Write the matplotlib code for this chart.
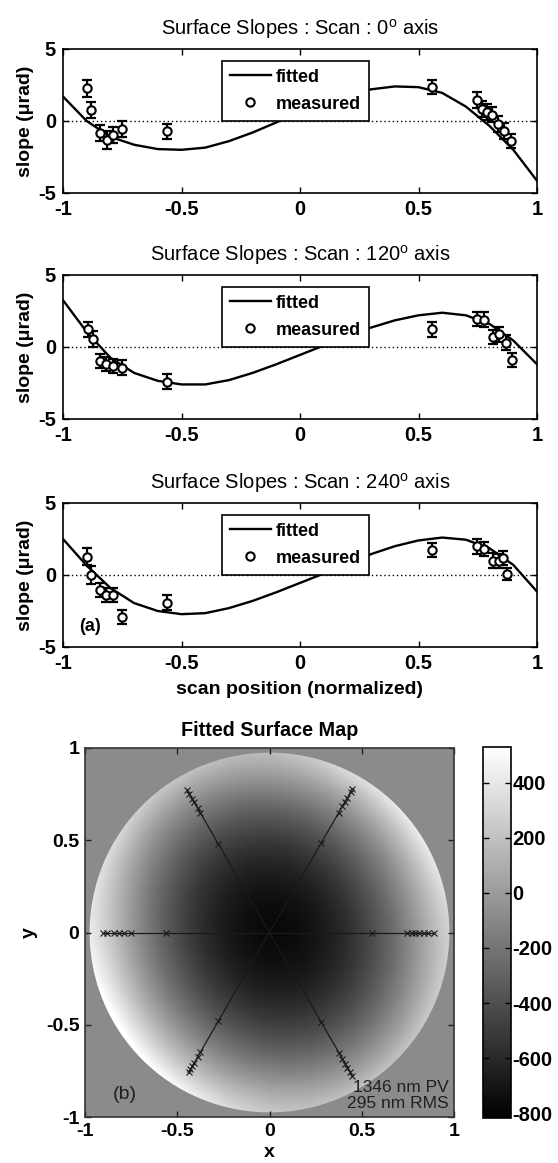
import numpy as np
import matplotlib.pyplot as plt
from matplotlib.patches import Circle

plt.rcParams['font.family'] = ['Liberation Sans', 'DejaVu Sans']
plt.rcParams['mathtext.fontset'] = 'custom'
plt.rcParams['mathtext.rm'] = 'Liberation Sans'
plt.rcParams['xtick.direction'] = 'in'
plt.rcParams['ytick.direction'] = 'in'
plt.rcParams['xtick.top'] = True
plt.rcParams['ytick.right'] = True

# fitted slope curves
fit_x = [-1.0, -0.9, -0.8, -0.7, -0.6, -0.5, -0.4, -0.3, -0.2, -0.1, 0.0,
         0.1, 0.2, 0.3, 0.4, 0.5, 0.6, 0.7, 0.8, 0.9, 1.0]
fit_0 = [1.7, 0.0, -1.1, -1.65, -1.95, -2.0, -1.85, -1.4, -0.8, -0.1, 0.6,
         1.3, 1.85, 2.2, 2.4, 2.35, 1.95, 1.0, -0.35, -2.0, -4.15]
fit_120 = [3.25, 1.05, -0.75, -1.8, -2.35, -2.6, -2.6, -2.3, -1.8, -1.2, -0.55,
           0.1, 0.75, 1.35, 1.85, 2.2, 2.38, 2.2, 1.6, 0.45, -1.2]
fit_240 = [2.5, 0.65, -0.9, -1.95, -2.5, -2.72, -2.65, -2.3, -1.8, -1.2, -0.55,
           0.1, 0.8, 1.45, 2.0, 2.4, 2.6, 2.45, 1.85, 0.7, -1.15]

# measured slopes
pos_0 = [-0.90, -0.88, -0.845, -0.815, -0.787, -0.75, -0.56,
         0.556, 0.745, 0.77, 0.79, 0.81, 0.835, 0.86, 0.89]
meas_0 = [2.27, 0.76, -0.85, -1.32, -1.0, -0.55, -0.72,
          2.35, 1.45, 0.85, 0.6, 0.45, -0.2, -0.7, -1.4]
err_0 = [0.58, 0.55, 0.55, 0.62, 0.55, 0.55, 0.5,
         0.5, 0.55, 0.55, 0.55, 0.55, 0.55, 0.55, 0.5]

pos_120 = [-0.895, -0.875, -0.845, -0.82, -0.79, -0.752, -0.56,
           0.557, 0.748, 0.778, 0.816, 0.838, 0.868, 0.893]
meas_120 = [1.22, 0.53, -0.97, -1.2, -1.31, -1.43, -2.4,
            1.22, 1.95, 1.9, 0.71, 0.87, 0.3, -0.9]
err_120 = [0.55, 0.55, 0.5, 0.5, 0.5, 0.5, 0.5,
           0.5, 0.5, 0.5, 0.5, 0.5, 0.5, 0.5]

pos_240 = [-0.898, -0.88, -0.842, -0.817, -0.79, -0.75, -0.56,
           0.557, 0.748, 0.778, 0.816, 0.838, 0.857, 0.875]
meas_240 = [1.28, 0.0, -1.06, -1.4, -1.4, -2.9, -1.91,
            1.73, 1.98, 1.82, 1.0, 0.97, 1.2, 0.07]
err_240 = [0.6, 0.6, 0.5, 0.5, 0.5, 0.5, 0.55,
           0.5, 0.5, 0.5, 0.5, 0.5, 0.5, 0.45]

scan_angles = [0, 120, 240]
xy_ticks = [-1, -0.5, 0, 0.5, 1]
xy_ticklabels = ['-1', '-0.5', '0', '0.5', '1']

# fitted surface map (nm) on a coarse grid, rows bottom (y=-1) to top (y=1)
grid_xy = [-1.0, -0.75, -0.5, -0.25, 0.0, 0.25, 0.5, 0.75, 1.0]
surface_nm = [
    [1925, 1286, 805, 483, 320, 316, 470, 783, 1255],
    [1370, 747, 283, -23, -170, -158, 13, 342, 830],
    [953, 346, -103, -392, -523, -494, -308, 38, 543],
    [673, 82, -350, -623, -738, -693, -490, -128, 393],
    [530, -44, -460, -717, -815, -754, -535, -157, 380],
    [525, -33, -433, -673, -755, -678, -443, -48, 505],
    [658, 116, -268, -492, -558, -464, -213, 198, 768],
    [928, 402, 35, -173, -223, -113, 155, 582, 1168],
    [1335, 826, 475, 283, 250, 376, 660, 1103, 1705],
]
clim = (-817, 529)
cbar_ticks = [-800, -600, -400, -200, 0, 200, 400]

W, H = 558, 1163
fig = plt.figure(figsize=(W / 100, H / 100), dpi=100)

def fax(l, t, r, b):
    return fig.add_axes([l / W, 1 - b / H, (r - l) / W, (b - t) / H])

bold = dict(fontsize=14, fontweight='bold')
panels = [(49, 193, fit_0, pos_0, meas_0, err_0),
          (275, 419, fit_120, pos_120, meas_120, err_120),
          (503, 647, fit_240, pos_240, meas_240, err_240)]

for k, (t, b, fit, pos, meas, err) in enumerate(panels):
    ax = fax(63, t, 537, b)
    ax.plot(fit_x, fit, color='black', lw=1.7, label='fitted')
    ax.axhline(0, color='black', lw=1, ls=(0, (1, 2)))
    ax.errorbar(pos, meas, yerr=err, fmt='none', ecolor='black',
                elinewidth=1.6, capsize=3.5, capthick=1.6)
    ax.plot(pos, meas, 'o', mfc='white', mec='black', ms=6, mew=1.5,
            label='measured')
    ax.set_xlim(-1, 1)
    ax.set_ylim(-5, 5)
    ax.set_xticks(xy_ticks)
    ax.set_xticklabels(xy_ticklabels)
    ax.set_yticks([-5, 0, 5])
    ax.set_yticklabels(['-5', '0', '5'])
    for lab in ax.get_xticklabels() + ax.get_yticklabels():
        lab.set_fontsize(14.5)
        lab.set_fontweight('bold')
    ax.tick_params(length=4, width=1, pad=5)
    for s in ax.spines.values():
        s.set_linewidth(1.2)
    ax.set_ylabel('slope (\u03bcrad)', labelpad=3, **bold)
    ax.set_title('Surface Slopes : Scan : %d$^{\\rm o}$ axis' % scan_angles[k],
                 fontsize=14.5, pad=10)
    leg = ax.legend(loc='upper center', bbox_to_anchor=(0.49, 0.92),
                    borderaxespad=0, fancybox=False, framealpha=1,
                    edgecolor='black', handlelength=2.3, handletextpad=0.25,
                    borderpad=0.45, labelspacing=0.55,
                    prop={'size': 13, 'weight': 'bold'})
    leg.get_frame().set_linewidth(1.2)
    if k == 2:
        ax.set_xlabel('scan position (normalized)', labelpad=6, **bold)
        ax.text(0.035, 0.11, '(a)', transform=ax.transAxes, fontsize=13,
                fontweight='bold')

# surface map
axm = fax(85, 748, 454, 1117)
axm.set_facecolor('#8b8b8b')
step = grid_xy[1] - grid_xy[0]
ext = [grid_xy[0] - step / 2, grid_xy[-1] + step / 2,
       grid_xy[0] - step / 2, grid_xy[-1] + step / 2]
im = axm.imshow(np.array(surface_nm), origin='lower', extent=ext, cmap='gray',
                vmin=clim[0], vmax=clim[1], interpolation='bicubic')
im.set_clip_path(Circle((0, 0), 0.975, transform=axm.transData))

scans = [(pos_0, 0), (pos_120, 120), (pos_240, 240)]
for pos, ang in scans:
    s = np.sort(np.array(pos))
    a = np.deg2rad(ang)
    axm.plot(s * np.cos(a), s * np.sin(a), '-x', color='#1a1a1a', lw=0.9,
             ms=4.5, mew=0.8)

axm.set_xlim(-1, 1)
axm.set_ylim(-1, 1)
axm.set_aspect('auto')
axm.set_xticks(xy_ticks)
axm.set_xticklabels(xy_ticklabels)
axm.set_yticks(xy_ticks)
axm.set_yticklabels(xy_ticklabels)
for lab in axm.get_xticklabels() + axm.get_yticklabels():
    lab.set_fontsize(14)
    lab.set_fontweight('bold')
axm.tick_params(length=4, width=1, pad=4, color='#222222')
for s in axm.spines.values():
    s.set_linewidth(1.2)
    s.set_color('#333333')
axm.set_title('Fitted Surface Map', pad=9, fontsize=14.2, fontweight='bold')
axm.set_xlabel('x', labelpad=3, **bold)
axm.set_ylabel('y', labelpad=6, **bold)
axm.text(-0.85, -0.9, '(b)', fontsize=14, color='#202020')
axm.text(0.97, -0.97, '1346 nm PV\n295 nm RMS', fontsize=12.5,
         color='#202020', ha='right', va='bottom', linespacing=1.1)

cax = fax(483, 747, 511, 1118)
cb = fig.colorbar(im, cax=cax)
cb.set_ticks(cbar_ticks)
cb.set_ticklabels([str(v) for v in cbar_ticks])
cax.tick_params(direction='in', left=True, right=True, length=4, width=1,
                pad=1)
for lab in cax.get_yticklabels():
    lab.set_fontsize(14.5)
    lab.set_fontweight('bold')
cb.outline.set_linewidth(1.2)

fig.savefig('out.png', dpi=100)
